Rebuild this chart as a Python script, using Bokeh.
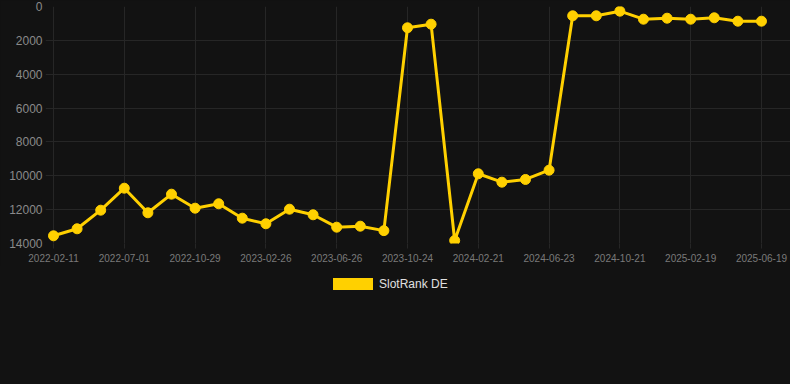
from bokeh.plotting import figure
from bokeh.layouts import column
from bokeh.models import Range1d, FixedTicker, ColumnDataSource, Div
from bokeh.embed import file_html
from bokeh.resources import INLINE

# --- data ---------------------------------------------------------------
tick_labels = ["2022-02-11", "2022-07-01", "2022-10-29", "2023-02-26", "2023-06-26",
               "2023-10-24", "2024-02-21", "2024-06-23", "2024-10-21", "2025-02-19",
               "2025-06-19"]
rank_de = [13545, 13131, 12032, 10733, 12186, 11087, 11914, 11654, 12504, 12835,
           11973, 12304, 13036, 12977, 13240, 1258, 1045, 13822, 9882, 10378,
           10218, 9669, 549, 549, 276, 750, 691, 750, 667, 868, 868]
series_name = "SlotRank DE"
y_ticks = [0, 2000, 4000, 6000, 8000, 10000, 12000, 14000]

# --- styling -----------------------------------------------------------
BG = "#121212"
GRID = "#262626"
GOLD = "#FFD000"
FONT = "Liberation Sans"

xs = list(range(len(rank_de)))
src = ColumnDataSource(dict(x=xs, y=rank_de))

p = figure(width=790, height=266, output_backend="svg", toolbar_location=None,
           x_range=Range1d(-0.339, 31.23), y_range=Range1d(14000, 0),
           background_fill_color=BG, border_fill_color=BG,
           min_border_left=45, min_border_right=0, min_border_top=6,
           min_border_bottom=23)
p.outline_line_color = None

p.line("x", "y", source=src, line_color=GOLD, line_width=3)
p.scatter("x", "y", source=src, size=10, fill_color=GOLD, line_color=GOLD)

# axes
p.xaxis.ticker = FixedTicker(ticks=list(range(0, len(rank_de), 3)))
p.xaxis.major_label_overrides = {i * 3: lab for i, lab in enumerate(tick_labels)}
p.yaxis.ticker = FixedTicker(ticks=y_ticks)
for ax in (p.xaxis, p.yaxis):
    ax.axis_line_color = None
    ax.minor_tick_line_color = None
    ax.major_label_text_font = FONT
p.xaxis.major_tick_line_color = GRID
p.xaxis.major_tick_in = 0
p.xaxis.major_tick_out = 5
p.xaxis.major_label_standoff = 5
p.xaxis.major_label_text_font_size = "10px"
p.xaxis.major_label_text_color = "#7a7a7a"
p.yaxis.major_tick_line_color = None
p.yaxis.major_tick_in = 0
p.yaxis.major_tick_out = 0
p.yaxis.major_label_standoff = 3
p.yaxis.major_label_text_font_size = "12px"
p.yaxis.major_label_text_color = "#8a8a8a"

p.xgrid.grid_line_color = GRID
p.ygrid.grid_line_color = GRID

# --- legend strip below the chart ----------------------------------------
legend_html = (
    f'<div style="position:relative;width:790px;height:118px;background:{BG};'
    f'margin:0;padding:0;">'
    f'<span style="position:absolute;left:333px;top:12px;width:40px;height:12px;'
    f'background:{GOLD};"></span>'
    f'<span style="position:absolute;left:379px;top:10px;font-family:\'{FONT}\';'
    f'font-size:12px;line-height:16px;color:#e0e0e0;white-space:nowrap;">'
    f'{series_name}</span></div>'
)
lg = Div(text=legend_html, width=790, height=118, margin=0,
         styles={"background-color": BG})

page = column(p, lg, spacing=0, styles={"background-color": BG})
open("out.html", "w").write(file_html(page, INLINE))
